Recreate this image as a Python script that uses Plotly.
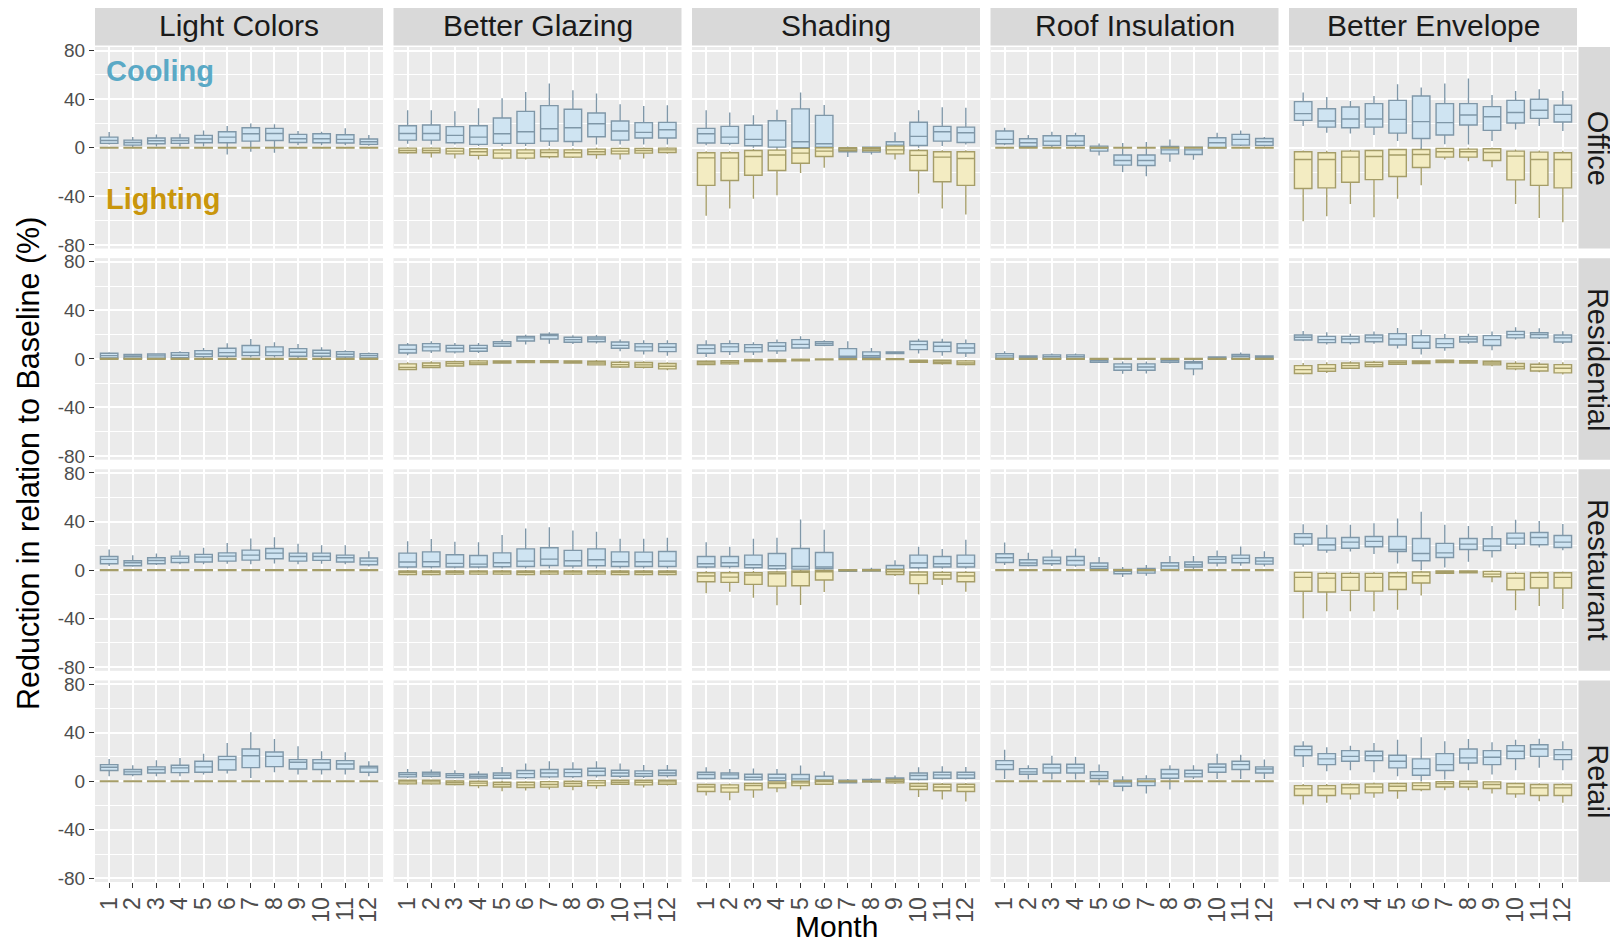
import plotly.graph_objects as go
from plotly.subplots import make_subplots

MONTHS = list(range(1, 13))
MONTH_LABELS = [str(m) for m in MONTHS]
MEASURES = ["Light Colors", "Better Glazing", "Shading", "Roof Insulation", "Better Envelope"]
BUILDINGS = ["Office", "Residential", "Restaurant", "Retail"]
Y_TICKS = [-80, -40, 0, 40, 80]
Y_TICK_LABELS = ["-80", "-40", "0", "40", "80"]

# each row: [lower whisker, q1, median, q3, upper whisker] for months 1..12
FLAT_LIGHT = [[-0.6, -0.3, 0, 0.3, 0.6], [-0.6, -0.3, 0, 0.3, 0.6], [-0.6, -0.3, 0, 0.3, 0.6],
              [-0.6, -0.3, 0, 0.3, 0.6], [-0.6, -0.3, 0, 0.3, 0.6], [-0.6, -0.3, 0, 0.3, 0.6],
              [-0.6, -0.3, 0, 0.3, 0.6], [-0.6, -0.3, 0, 0.3, 0.6], [-0.6, -0.3, 0, 0.3, 0.6],
              [-0.6, -0.3, 0, 0.3, 0.6], [-0.6, -0.3, 0, 0.3, 0.6], [-0.6, -0.3, 0, 0.3, 0.6]]

# ---------------- Office ----------------
OFF_LC_COOL = [[2.7, 3.6, 6, 8.8, 13], [0.5, 2.2, 4.4, 6.3, 8.8], [1, 3.3, 5.8, 8, 11], [1, 3.6, 6, 8, 11.6],
               [1, 4.1, 7.2, 10.2, 14.3], [-5.5, 4.1, 8.8, 13.2, 17.9], [-3.3, 5.5, 11.6, 16.5, 20],
               [-4, 6, 11.8, 16, 19.3], [2, 4.4, 7.4, 11, 13.8], [2, 4.1, 7.4, 11.6, 13.2],
               [2, 3.9, 6.9, 10.7, 16], [1.6, 2.8, 5, 7.2, 10.5]]
OFF_BG_COOL = [[3.3, 6.3, 11.8, 18.2, 31], [2.8, 6.3, 11.8, 18.7, 31], [2.8, 4.1, 10.2, 17.4, 30],
               [1.4, 2.8, 8.8, 18.2, 32.5], [1.4, 3.6, 11.6, 24.5, 40.8], [1.4, 3.6, 13.2, 30, 46],
               [1.4, 5.5, 15.7, 34.7, 52.9], [1.4, 5.2, 16.5, 31.7, 47.4], [2.8, 9.1, 19.8, 28.7, 44.6],
               [2.8, 6.3, 13.8, 22, 35.8], [2.8, 8, 12.7, 20.7, 34.4], [2.8, 8, 14.9, 20.9, 35]]
OFF_BG_LIGHT = [[-5, -4.1, -2.2, -0.3, 0.5], [-8, -4.1, -2.2, -0.3, 0.5], [-8.8, -5, -2.8, -0.5, 0.3],
                [-9.6, -6.3, -3.3, -0.8, 0], [-9.6, -8.5, -4.4, -1.7, -0.5], [-9.6, -8.5, -4.4, -1.7, -0.5],
                [-8.8, -7.4, -3.9, -1.7, -0.5], [-8.5, -7.7, -4.1, -1.7, -0.5], [-9, -5.5, -3.3, -1.1, 0],
                [-9.6, -5, -2.8, -0.5, 0.3], [-8.8, -4.4, -2.2, -0.5, 0.3], [-5, -3.9, -1.7, -0.3, 0.5]]
OFF_SH_COOL = [[2, 3.9, 11.6, 16, 31], [2, 3.6, 8.8, 17.6, 29], [0, 1.7, 6.9, 18.5, 26.7],
               [-0.5, 0.5, 6.3, 22.3, 31.4], [-1.4, 0, 5, 32, 45.5], [-1.4, 0.5, 3.3, 26.7, 35.3],
               [-7.5, -3.3, -1.4, -0.5, 1], [-5.5, -3.6, -1.4, 0.5, 1], [-5, -2.2, 2.2, 5, 12.7],
               [0, 1.9, 9.4, 21, 31], [1.4, 5.5, 13.2, 17.6, 33.3], [2.8, 4.4, 12.4, 17, 33]]
OFF_SH_LIGHT = [[-56, -31, -8.3, -4.1, -2.8], [-50, -27, -8.5, -4.1, -2.8], [-42, -22.6, -7.2, -2.2, -1],
                [-39, -18.7, -6, -1.9, -0.5], [-20.7, -12.7, -4.4, -0.5, 0], [-16.5, -7.2, -2.8, 0, 0.5],
                [-3, -2.5, -1, 0, 0.3], [-3, -2.5, -1, 0, 0.3], [-9.6, -5, -1.7, 1.4, 2],
                [-37.7, -18.7, -6.3, -2.2, -1], [-50, -28, -7.7, -3.3, -2], [-55, -31, -8.8, -3.3, -2]]
OFF_RI_COOL = [[2, 3.3, 6.9, 13.8, 16.5], [0.5, 1.1, 4.1, 7.4, 10.5], [0.5, 2, 5.5, 9.9, 13.2],
               [0.5, 2, 5.5, 9.9, 12.4], [-6.3, -2.8, -0.5, 1.4, 3.6], [-20, -14.3, -10.5, -6, 4],
               [-23.4, -14.6, -10.5, -6, 4.7], [-11.6, -5, -1.7, 1.1, 6.9], [-9.9, -5.5, -1.7, 0.5, 0.5],
               [0, 0, 4.1, 8.3, 12.4], [1.4, 2.2, 6.9, 11, 14.3], [1.1, 2, 5, 7.7, 8.8]]
OFF_BE_COOL = [[18, 22.6, 28.1, 38, 45.5], [12.4, 17, 22, 32.2, 41.9], [11.8, 16.5, 23.7, 33.6, 38.6],
               [10.5, 17, 23.7, 36.4, 42.7], [5.5, 12.1, 23.4, 39, 52.3], [-5, 7.7, 21.5, 42.7, 49.6],
               [3, 10.5, 20.7, 36.4, 53], [2.8, 18.7, 27, 36.4, 57], [5.5, 14.3, 25.6, 33.9, 43.5],
               [15, 20.4, 29, 39, 46.8], [18, 24.2, 30.9, 40, 48.2], [13.8, 21.2, 27.5, 35, 46.8]]
OFF_BE_LIGHT = [[-60.6, -33.6, -9.6, -3.3, -2.2], [-56.5, -33, -9.6, -4.1, -2.5], [-46.3, -28.4, -7.7, -2.8, -1.7],
                [-57.3, -26.2, -7.2, -2.2, -1.4], [-41.9, -23.7, -6, -1.4, -0.8], [-30.9, -16.2, -5.5, -1.4, -0.5],
                [-9.6, -7.7, -3.3, -0.5, 0], [-11, -7.7, -3.3, -1.1, 0], [-16, -10.5, -3.9, -0.8, 0],
                [-46.3, -26.4, -6.9, -2.8, -1.4], [-57.9, -31, -9.6, -3.6, -2.2], [-61.4, -33, -9.6, -4.1, -2.5]]

# ---------------- Residential ----------------
RES_LC_COOL = [[0.5, 0.8, 2.7, 4.7, 5.5], [0.5, 0.5, 2.2, 3.6, 4.1], [0.3, 0.5, 2.5, 4.1, 4.7],
               [0.5, 1.1, 3, 5.2, 6.3], [0.8, 1.9, 4.1, 6.8, 9], [0.8, 2.2, 5.2, 8.8, 12.9],
               [1.1, 2.7, 5.5, 11, 16.4], [1.1, 2.7, 5.8, 9.9, 13.7], [0.8, 2.2, 5.5, 8.5, 12.3],
               [0.8, 2.2, 4.7, 7.1, 9.6], [0.5, 1.6, 3.8, 6, 7.1], [0.3, 0.8, 2.7, 4.4, 5.2]]
RES_BG_COOL = [[3, 4.9, 7.9, 11.5, 13.2], [4.9, 6.6, 9.9, 12.6, 14.5], [4.4, 5.8, 8.8, 11.2, 13.2],
               [4.9, 6.3, 8.8, 11.2, 13.2], [9.9, 10.4, 12.6, 14.2, 15.9], [11.8, 14.8, 17.3, 18.6, 20],
               [12.6, 16.4, 19.2, 20.3, 21.9], [12.3, 13.7, 15.9, 17.8, 19.5], [12.8, 14.2, 16.4, 18.1, 19.7],
               [6.3, 8.8, 11.2, 14, 15.9], [3.6, 6.6, 9.9, 12.6, 15.3], [2.7, 6, 9.6, 12.6, 15.3]]
RES_BG_LIGHT = [[-9.3, -8.8, -7.1, -4.1, -2.7], [-7.7, -7.1, -5.5, -3.3, -1.9], [-6, -5.8, -3.8, -2.2, -1.4],
                [-5.2, -4.7, -3.3, -1.6, -0.8], [-3.6, -3.3, -2.5, -1.6, -1.1], [-3.3, -3, -2.2, -1.4, -1.1],
                [-3.3, -3, -2.2, -1.4, -1.1], [-3.6, -3.3, -2.5, -1.6, -1.1], [-5.5, -4.9, -3.3, -1.9, -0.8],
                [-7.4, -6.6, -4.7, -2.7, -1.6], [-7.9, -6.8, -4.9, -3, -1.9], [-9.3, -8.2, -6, -3.8, -2.7]]
RES_SH_COOL = [[1.6, 4.7, 8.5, 11.5, 15.3], [3.3, 6, 9.9, 12.6, 15.3], [3.3, 5.8, 9.3, 11.8, 13.7],
               [4.1, 6.6, 10.4, 13.4, 15.9], [8.5, 9, 12, 15.9, 18.6], [10.4, 11.2, 12.6, 14.2, 15.3],
               [0.5, 1.4, 2.2, 8.5, 14.5], [0.5, 1.4, 2.7, 5.8, 9], [4.4, 4.4, 4.9, 5.8, 5.8],
               [4.4, 7.7, 11.8, 14.5, 16.7], [2.7, 6, 10.4, 13.7, 16.7], [1.6, 4.9, 9, 12.6, 15.9]]
RES_SH_LIGHT = [[-5.2, -4.7, -3.3, -1.9, -1.1], [-4.7, -4.1, -2.7, -1.4, -0.8], [-2.7, -2.2, -1.4, -0.5, 0],
                [-2.5, -2.2, -1.4, -0.5, 0], [-2, -1.6, -1.1, -0.3, 0], [-1, -0.8, -0.5, 0, 0.3],
                [-0.8, -0.5, -0.2, 0.2, 0.5], [-0.8, -0.5, -0.2, 0.2, 0.5], [-0.8, -0.5, -0.2, 0.2, 0.5],
                [-3.3, -2.7, -1.9, -1.1, -0.5], [-4.7, -3.8, -2.5, -1.1, -0.5], [-5.5, -4.7, -3.3, -1.6, -0.8]]
RES_RI_COOL = [[0.3, 0.5, 2.5, 4.4, 6.3], [0, 0.3, 1.4, 2.5, 3], [0, 0.3, 1.9, 3.3, 4.4],
               [0, 0.3, 1.9, 3.3, 4.4], [-3.3, -2.7, -1.4, 0, 0.8], [-12.3, -9.3, -6.6, -4.1, -2.2],
               [-12, -9.3, -6.6, -4.1, -2.2], [-3.8, -2.7, -1.4, 0, 0.5], [-13.4, -8.2, -3.3, -2.2, -0.5],
               [0, 0.3, 1.1, 1.6, 2.2], [0, 0.3, 2.2, 3.6, 5.2], [0, 0.3, 1.4, 2.5, 3]]
RES_BE_COOL = [[14.5, 15.6, 17.8, 19.7, 23], [11.8, 13.4, 15.9, 18.6, 21.9], [11.8, 13.4, 16.4, 18.6, 20.8],
               [12.6, 14.2, 17.3, 19.7, 22.5], [8.5, 11.5, 16.4, 20.8, 25.5], [3.6, 8.8, 13.7, 19.2, 24],
               [6.8, 9.3, 12.6, 16.7, 20.5], [12.6, 14, 16.4, 18.4, 20.8], [7.1, 11, 15.9, 19.2, 22.5],
               [15.9, 17.3, 20, 22.7, 26], [16.4, 17.3, 20, 21.6, 25.2], [12.3, 14, 17.3, 19.7, 22.7]]
RES_BE_LIGHT = [[-12.9, -12, -8.8, -5.5, -3.3], [-11.5, -10.1, -7.9, -4.7, -2.7], [-8.2, -7.7, -5.5, -3.3, -1.9],
                [-7.1, -6.3, -4.7, -2.7, -1.6], [-4.9, -4.4, -3, -1.6, -1.1], [-4.4, -3.8, -2.7, -1.6, -1.1],
                [-3.3, -3, -1.9, -1.1, -0.5], [-3.6, -3.3, -2.2, -1.4, -0.8], [-6, -4.9, -3.3, -1.9, -1.1],
                [-9.3, -8.2, -6.3, -3.8, -1.9], [-11, -9.9, -6.8, -4.4, -2.7], [-12.9, -11.5, -7.7, -4.7, -2.7]]

# ---------------- Restaurant ----------------
RST_LC_COOL = [[3.3, 5.2, 8.8, 11.2, 17], [2.7, 3.6, 6, 7.7, 12.3], [4.1, 5.2, 7.9, 10.1, 13.7],
               [4.7, 6.3, 9.6, 11.5, 16.2], [4.7, 6.6, 10.7, 12.9, 18.4], [5.2, 7.4, 11.5, 14.2, 22.2],
               [4.7, 8.2, 12.3, 16.4, 26], [5.5, 9.3, 14, 17.8, 27.1], [4.7, 7.4, 11.2, 14, 21.6],
               [5.2, 8, 11.2, 14, 20.5], [4.7, 6.6, 10.1, 12.3, 20.5], [3, 4.4, 7.4, 9.9, 15.6]]
RST_BG_COOL = [[1.4, 2.5, 6.6, 14, 23.8], [1.4, 2.7, 6.8, 15, 25.5], [1.4, 2.5, 5.5, 12.6, 23.3],
               [1.4, 2.5, 4.9, 12, 23], [1.4, 2.7, 6, 14.2, 28.8], [1.4, 3, 7.4, 17.5, 34.2],
               [1.4, 3.8, 9, 18.4, 35.3], [1.4, 3.3, 7.7, 16.2, 32.6], [1.4, 3.6, 8.5, 17.5, 31.5],
               [1.4, 3, 6.8, 15, 25.8], [1.4, 3, 6.8, 14.8, 25.8], [1.4, 3, 7.4, 15.3, 26.6]]
RST_BG_LIGHT = [[-4.4, -3.6, -1.9, -0.8, 0], [-4.4, -3.6, -1.9, -0.8, 0], [-4.1, -3.3, -1.9, -0.8, 0],
                [-4.1, -3.3, -1.6, -0.8, 0], [-4.1, -3.3, -1.6, -0.8, 0], [-4.4, -3.6, -1.9, -0.8, 0],
                [-4.1, -3.3, -1.6, -0.8, 0], [-4.1, -3.3, -1.6, -0.8, 0], [-4.1, -3.3, -1.6, -0.8, 0],
                [-4.4, -3.6, -1.9, -0.8, 0], [-4.4, -3.6, -1.9, -0.8, 0], [-4.4, -3.6, -1.9, -0.8, 0]]
RST_SH_COOL = [[1.4, 2.5, 5.2, 11.2, 23], [1.4, 3, 6, 11.2, 19.2], [0.5, 1.9, 4.4, 12.3, 25.8],
               [0.3, 1.1, 3.6, 13.7, 26.6], [0.3, 0.8, 3, 17.8, 41.6], [0.3, 1.1, 2.5, 14.5, 33.2],
               [-1.4, -1.1, -0.3, 0.3, 0.8], [-1.1, -0.8, 0, 0.5, 1.9], [-3, -1.9, 0.8, 3.8, 8],
               [0.5, 1.9, 5.8, 12.3, 19.2], [1.1, 2.5, 5.2, 11.2, 17.3], [1.1, 2.5, 5.5, 12.3, 25]]
RST_SH_LIGHT = [[-19, -9.6, -4.9, -2.2, -0.8], [-17.8, -10.1, -5.8, -2.2, -0.8], [-22.7, -11.8, -4.1, -2.2, -0.8],
                [-29, -13.2, -3, -1.6, -0.5], [-28.8, -12.9, -1.9, -0.8, 0], [-18, -8.2, -1.4, -0.3, 0],
                [-1, -0.5, 0, 0.3, 0.5], [-1, -0.5, 0, 0.3, 0.5], [-4.9, -3.6, -1.4, 0.5, 1.1],
                [-20, -11.2, -4.1, -1.6, -0.5], [-12.3, -7.4, -4.1, -1.9, -0.8], [-17.8, -9.6, -4.9, -1.9, -0.8]]
RST_RI_COOL = [[4.1, 6.3, 10.1, 13.4, 22.7], [3, 3.8, 5.8, 8.5, 14.2], [3.3, 5.2, 7.9, 10.7, 17],
               [2.7, 4.1, 7.9, 11.2, 17.8], [0.3, 1.1, 3, 5.8, 10.7], [-5.8, -3, -1.1, 0.5, 2.5],
               [-4.7, -2.5, -0.3, 1.4, 4.1], [-0.3, 0.5, 3.3, 6, 11.5], [0.8, 2.5, 4.4, 6.6, 11.5],
               [3, 5.8, 8.8, 11, 16.2], [3.6, 6, 9.6, 12.3, 19.5], [3, 4.9, 7.4, 10.1, 15.6]]
RST_BE_COOL = [[19.2, 21.4, 26.8, 30, 37.8], [14.2, 16.4, 20.8, 26.3, 37.3], [15.3, 18, 23, 26.8, 37.3],
               [13.2, 19.2, 23.6, 27.7, 38.6], [5.5, 15.3, 17, 27.7, 42.5], [0, 7.7, 13.7, 26, 48],
               [2.2, 10.4, 14.2, 22, 37.3], [6.8, 17, 21.4, 26, 36.2], [10.4, 16, 19.7, 25.8, 36.4],
               [17.3, 21.4, 26.3, 30.4, 41.4], [18.6, 20.8, 26.8, 31, 40.5], [16.4, 18.6, 23, 28.5, 38]]
RST_BE_LIGHT = [[-39.7, -17.5, -6, -1.9, -1.1], [-34, -18, -6.6, -2.7, -1.4], [-34, -16.7, -6, -2.7, -1.4],
                [-34, -17.3, -6, -2.7, -1.4], [-32.6, -16, -5.5, -2.2, -1.1], [-21, -10.7, -4.7, -1.6, -0.5],
                [-3.3, -2.7, -1.6, -0.8, -0.3], [-2.5, -2.2, -1.4, -0.8, -0.3], [-10, -5.5, -3.3, -1.1, -0.3],
                [-33, -16.2, -6.6, -2.7, -1.4], [-29.6, -14.8, -6, -2.2, -1.1], [-32, -14.8, -6, -2.2, -1.1]]

# ---------------- Retail ----------------
RET_LC_COOL = [[4.1, 8.8, 11.5, 13.7, 18.4], [4.1, 5.5, 7.7, 9.6, 13.2], [4.1, 6.8, 9.6, 11.8, 17.3],
               [4.1, 7.1, 11, 13.2, 19.2], [5.5, 7.4, 11.8, 16.4, 22.7], [6.3, 9.3, 17.8, 20.5, 31.5],
               [2.7, 11.2, 21, 26.6, 40.3], [7.4, 12, 20.5, 24.1, 34.8], [5.5, 10.1, 15.6, 17.8, 28.8],
               [5.5, 9.6, 15, 17.8, 24.7], [5.5, 10.1, 14.2, 17, 23.8], [4.1, 7.4, 11, 12.3, 16.4]]
RET_BG_COOL = [[2.7, 3.6, 5.5, 7.1, 10.1], [3, 4.1, 6, 7.4, 9.6], [2.2, 3, 4.7, 6.3, 9],
               [1.6, 2.7, 4.1, 5.8, 8.2], [1.4, 2.5, 4.9, 6.8, 11.8], [1.9, 3, 6.3, 8.8, 14.5],
               [2.5, 3.6, 6.8, 9.6, 16.4], [2.5, 3.8, 7.1, 9.9, 15.6], [3, 4.7, 8.2, 10.7, 16.4],
               [2.7, 4.1, 6.8, 9, 14.5], [2.7, 4.1, 6.3, 8.5, 13.4], [3, 4.7, 6.8, 9, 13.4]]
RET_BG_LIGHT = [[-3, -2.2, -0.5, 0.8, 1.4], [-3, -2.2, -0.5, 0.8, 1.4], [-3.6, -2.7, -1.1, 0.3, 1.1],
                [-5.8, -3.6, -1.6, 0, 0.8], [-8.2, -4.7, -2.7, -0.8, 0.3], [-7.7, -5.2, -3, -0.8, 0],
                [-6.8, -4.9, -2.7, -0.3, 0.3], [-7.4, -4.1, -1.9, 0, 0.8], [-6.3, -3.6, -1.4, 0.5, 1.1],
                [-3, -2.5, -0.8, 0.8, 1.4], [-5.2, -3, -0.8, 0.8, 1.4], [-3.6, -2.5, -0.5, 0.8, 1.4]]
RET_SH_COOL = [[1.4, 2.2, 5.5, 7.4, 11.5], [1.4, 2.2, 5.2, 6.8, 10.1], [0.5, 1.1, 3.3, 5.8, 10.4],
               [0, 0.5, 2.7, 5.8, 10.1], [-1.4, -0.5, 1.9, 5.5, 12.9], [-1.4, -0.8, 0.8, 4.1, 8.2],
               [-1.9, -1.4, -0.3, 0.8, 1.9], [-1.4, -0.5, 0.5, 1.4, 2.5], [-1.4, -0.5, 1.4, 2.7, 4.7],
               [0.5, 1.4, 4.7, 6.8, 11.5], [1.4, 2.5, 5.2, 7.4, 12.3], [1.4, 2.5, 5.2, 7.4, 11.8]]
RET_SH_LIGHT = [[-11.8, -8.5, -4.7, -2.7, -1.9], [-15.6, -9, -5.5, -3, -1.9], [-13.7, -7.1, -3.6, -1.9, -1.1],
                [-9, -5.5, -1.9, -0.5, 0], [-6.8, -3.6, -1.4, 0, 0.5], [-3, -2.5, -0.3, 0.8, 1.4],
                [-0.8, -0.5, 0, 0.3, 0.5], [-0.8, -0.5, 0, 0.3, 0.5], [-2.2, -1.4, 0, 1.4, 1.9],
                [-12.9, -6.8, -4.1, -1.9, -1.1], [-15, -7.9, -4.7, -2.5, -1.4], [-16.7, -8.5, -4.7, -2.5, -1.4]]
RET_RI_COOL = [[1.9, 9.6, 13.7, 17, 26], [1.4, 5.8, 7.7, 10.4, 13.2], [1.4, 6.8, 11, 14, 21],
               [1.4, 6.8, 11, 14, 20], [-3.3, 2.2, 4.7, 7.9, 13.7], [-8.2, -4.1, -1.4, 0.8, 4.1],
               [-10.1, -3.6, -0.3, 1.9, 4.9], [-6.8, 2.5, 6, 9.6, 13.2], [1.9, 3.6, 6.3, 9, 13.2],
               [1.9, 7.4, 11.5, 14.2, 22.7], [1.9, 9.6, 13.7, 16.4, 21.9], [1.9, 6.8, 10.1, 11.8, 17.8]]
RET_BE_COOL = [[11.8, 21, 26, 28.8, 33], [8.2, 13.7, 18.4, 22.7, 28], [9, 16.4, 20.5, 25.2, 29.3],
               [7.4, 17, 21, 24.7, 31.5], [4.1, 11, 16.4, 21.4, 34.2], [0, 4.9, 10.4, 18.4, 36.2],
               [1.4, 8.8, 13.7, 22.7, 32.9], [9, 15, 19.2, 26.6, 34.8], [5.5, 13.7, 19.7, 25.2, 32],
               [9, 18.6, 24.7, 29.3, 34.2], [11, 20.5, 26.6, 30.1, 35], [9, 17.8, 21.9, 26, 32.9]]
RET_BE_LIGHT = [[-19.2, -11.8, -6.3, -3.6, -2.2], [-17.8, -11.8, -6.3, -3.6, -2.2], [-15, -10.4, -5.5, -2.7, -1.6],
                [-13.7, -9.6, -4.7, -2.2, -1.1], [-14.5, -7.9, -4.1, -1.9, -1.1], [-8.2, -6.8, -3.6, -1.4, -0.5],
                [-7.4, -4.7, -1.9, -0.3, 0.3], [-7.4, -4.7, -1.9, 0, 0.5], [-10.1, -6, -2.7, -0.5, 0],
                [-13.7, -10.4, -4.7, -1.9, -1.1], [-16.4, -11.8, -5.5, -2.7, -1.6], [-17.8, -11.8, -5.5, -2.7, -1.6]]

PANELS = {
    ("Office", "Light Colors"): (OFF_LC_COOL, FLAT_LIGHT),
    ("Office", "Better Glazing"): (OFF_BG_COOL, OFF_BG_LIGHT),
    ("Office", "Shading"): (OFF_SH_COOL, OFF_SH_LIGHT),
    ("Office", "Roof Insulation"): (OFF_RI_COOL, FLAT_LIGHT),
    ("Office", "Better Envelope"): (OFF_BE_COOL, OFF_BE_LIGHT),
    ("Residential", "Light Colors"): (RES_LC_COOL, FLAT_LIGHT),
    ("Residential", "Better Glazing"): (RES_BG_COOL, RES_BG_LIGHT),
    ("Residential", "Shading"): (RES_SH_COOL, RES_SH_LIGHT),
    ("Residential", "Roof Insulation"): (RES_RI_COOL, FLAT_LIGHT),
    ("Residential", "Better Envelope"): (RES_BE_COOL, RES_BE_LIGHT),
    ("Restaurant", "Light Colors"): (RST_LC_COOL, FLAT_LIGHT),
    ("Restaurant", "Better Glazing"): (RST_BG_COOL, RST_BG_LIGHT),
    ("Restaurant", "Shading"): (RST_SH_COOL, RST_SH_LIGHT),
    ("Restaurant", "Roof Insulation"): (RST_RI_COOL, FLAT_LIGHT),
    ("Restaurant", "Better Envelope"): (RST_BE_COOL, RST_BE_LIGHT),
    ("Retail", "Light Colors"): (RET_LC_COOL, FLAT_LIGHT),
    ("Retail", "Better Glazing"): (RET_BG_COOL, RET_BG_LIGHT),
    ("Retail", "Shading"): (RET_SH_COOL, RET_SH_LIGHT),
    ("Retail", "Roof Insulation"): (RET_RI_COOL, FLAT_LIGHT),
    ("Retail", "Better Envelope"): (RET_BE_COOL, RET_BE_LIGHT),
}

COOL_FILL, COOL_LINE = "#cfe4f2", "#7f97a8"
LIGHT_FILL, LIGHT_LINE = "#f3ecc2", "#a59d68"
FONT = "Liberation Sans, Arial, sans-serif"

# The page body adds an 8px margin, so the figure is 8px smaller and every
# pixel position below is in figure coordinates (page position - 8).
OFF = 8
W, H = 1618 - OFF, 947 - OFF
ML, MR, MT, MB = 95 - OFF, 41, 47 - OFF, 65
PW, PH = W - ML - MR, H - MT - MB

fig = make_subplots(rows=4, cols=5, shared_xaxes=True, shared_yaxes=True,
                    horizontal_spacing=10.5 / PW, vertical_spacing=9.6 / PH)


def add_box(stats, r, c, fill, line):
    fig.add_trace(go.Box(
        x=MONTHS,
        lowerfence=[s[0] for s in stats], q1=[s[1] for s in stats],
        median=[s[2] for s in stats], q3=[s[3] for s in stats],
        upperfence=[s[4] for s in stats],
        fillcolor=fill, line=dict(color=line, width=1.4), width=0.74,
        whiskerwidth=0, boxpoints=False, showlegend=False, hoverinfo="skip"),
        row=r, col=c)


for ri, b in enumerate(BUILDINGS, start=1):
    for ci, m in enumerate(MEASURES, start=1):
        cool, light = PANELS[(b, m)]
        add_box(cool, ri, ci, COOL_FILL, COOL_LINE)
        add_box(light, ri, ci, LIGHT_FILL, LIGHT_LINE)

fig.update_xaxes(range=[0.4, 12.6], tickmode="array", tickvals=MONTHS, ticktext=MONTH_LABELS,
                 tickangle=-90, showgrid=True, gridcolor="white", gridwidth=1.8, zeroline=False,
                 showline=False, tickfont=dict(family=FONT, size=23, color="#4d4d4d"))
fig.update_yaxes(range=[-83, 83], tickmode="array", tickvals=Y_TICKS, ticktext=Y_TICK_LABELS,
                 showgrid=True, gridcolor="white", gridwidth=1.8, zeroline=False, showline=False,
                 minor=dict(tickmode="array", tickvals=[-60, -20, 20, 60], showgrid=True,
                            gridcolor="white", gridwidth=0.9, ticks=""),
                 tickfont=dict(family=FONT, size=19, color="#4d4d4d"))
for c in range(1, 6):
    fig.update_xaxes(ticks="outside", ticklen=5, tickwidth=1.3, tickcolor="#333333", row=4, col=c)
for r in range(1, 5):
    fig.update_yaxes(ticks="outside", ticklen=5, tickwidth=1.3, tickcolor="#333333", row=r, col=1)

shapes, annotations = [], []
for ci, m in enumerate(MEASURES, start=1):
    dom = fig.get_subplot(1, ci).xaxis.domain
    shapes.append(dict(type="rect", xref="paper", yref="paper", x0=dom[0], x1=dom[1],
                       y0=1 + 1.5 / PH, y1=1 + 42 / PH, fillcolor="#d9d9d9", line=dict(width=0),
                       layer="below"))
    annotations.append(dict(text=m, xref="paper", yref="paper", x=(dom[0] + dom[1]) / 2,
                            y=1 + 21.5 / PH, showarrow=False, xanchor="center", yanchor="middle",
                            font=dict(family=FONT, size=30, color="#1a1a1a")))
for ri, b in enumerate(BUILDINGS, start=1):
    dom = fig.get_subplot(ri, 5).yaxis.domain
    shapes.append(dict(type="rect", xref="paper", yref="paper", x0=1 + 1.5 / PW, x1=1 + 41 / PW,
                       y0=dom[0], y1=dom[1], fillcolor="#d9d9d9", line=dict(width=0), layer="below"))
    annotations.append(dict(text=b, xref="paper", yref="paper", x=1 + 21 / PW,
                            y=(dom[0] + dom[1]) / 2, showarrow=False, textangle=90,
                            xanchor="center", yanchor="middle",
                            font=dict(family=FONT, size=29, color="#1a1a1a")))

annotations.append(dict(text="<b>Cooling</b>", xref="x", yref="y", x=0.8, y=63, showarrow=False,
                        xanchor="left", yanchor="middle",
                        font=dict(family=FONT, size=29, color="#5aa9c6")))
annotations.append(dict(text="<b>Lighting</b>", xref="x", yref="y", x=0.8, y=-42, showarrow=False,
                        xanchor="left", yanchor="middle",
                        font=dict(family=FONT, size=29, color="#c9960c")))
annotations.append(dict(text="Reduction in relation to Baseline (%)", xref="paper", yref="paper",
                        x=(28 - 95) / PW, y=1 - (464 - 47) / PH, showarrow=False, textangle=-90,
                        xanchor="center", yanchor="middle",
                        font=dict(family=FONT, size=30.5, color="black")))
annotations.append(dict(text="Month", xref="paper", yref="paper", x=(836 - 95) / PW,
                        y=1 - (926 - 47) / PH, showarrow=False, xanchor="center", yanchor="middle",
                        font=dict(family=FONT, size=30, color="black")))

fig.update_layout(width=W, height=H, margin=dict(l=ML, r=MR, t=MT, b=MB, autoexpand=False),
                  boxmode="overlay", plot_bgcolor="#ebebeb", paper_bgcolor="white",
                  shapes=shapes, annotations=annotations, showlegend=False,
                  font=dict(family=FONT))

fig.write_html("out.html")
